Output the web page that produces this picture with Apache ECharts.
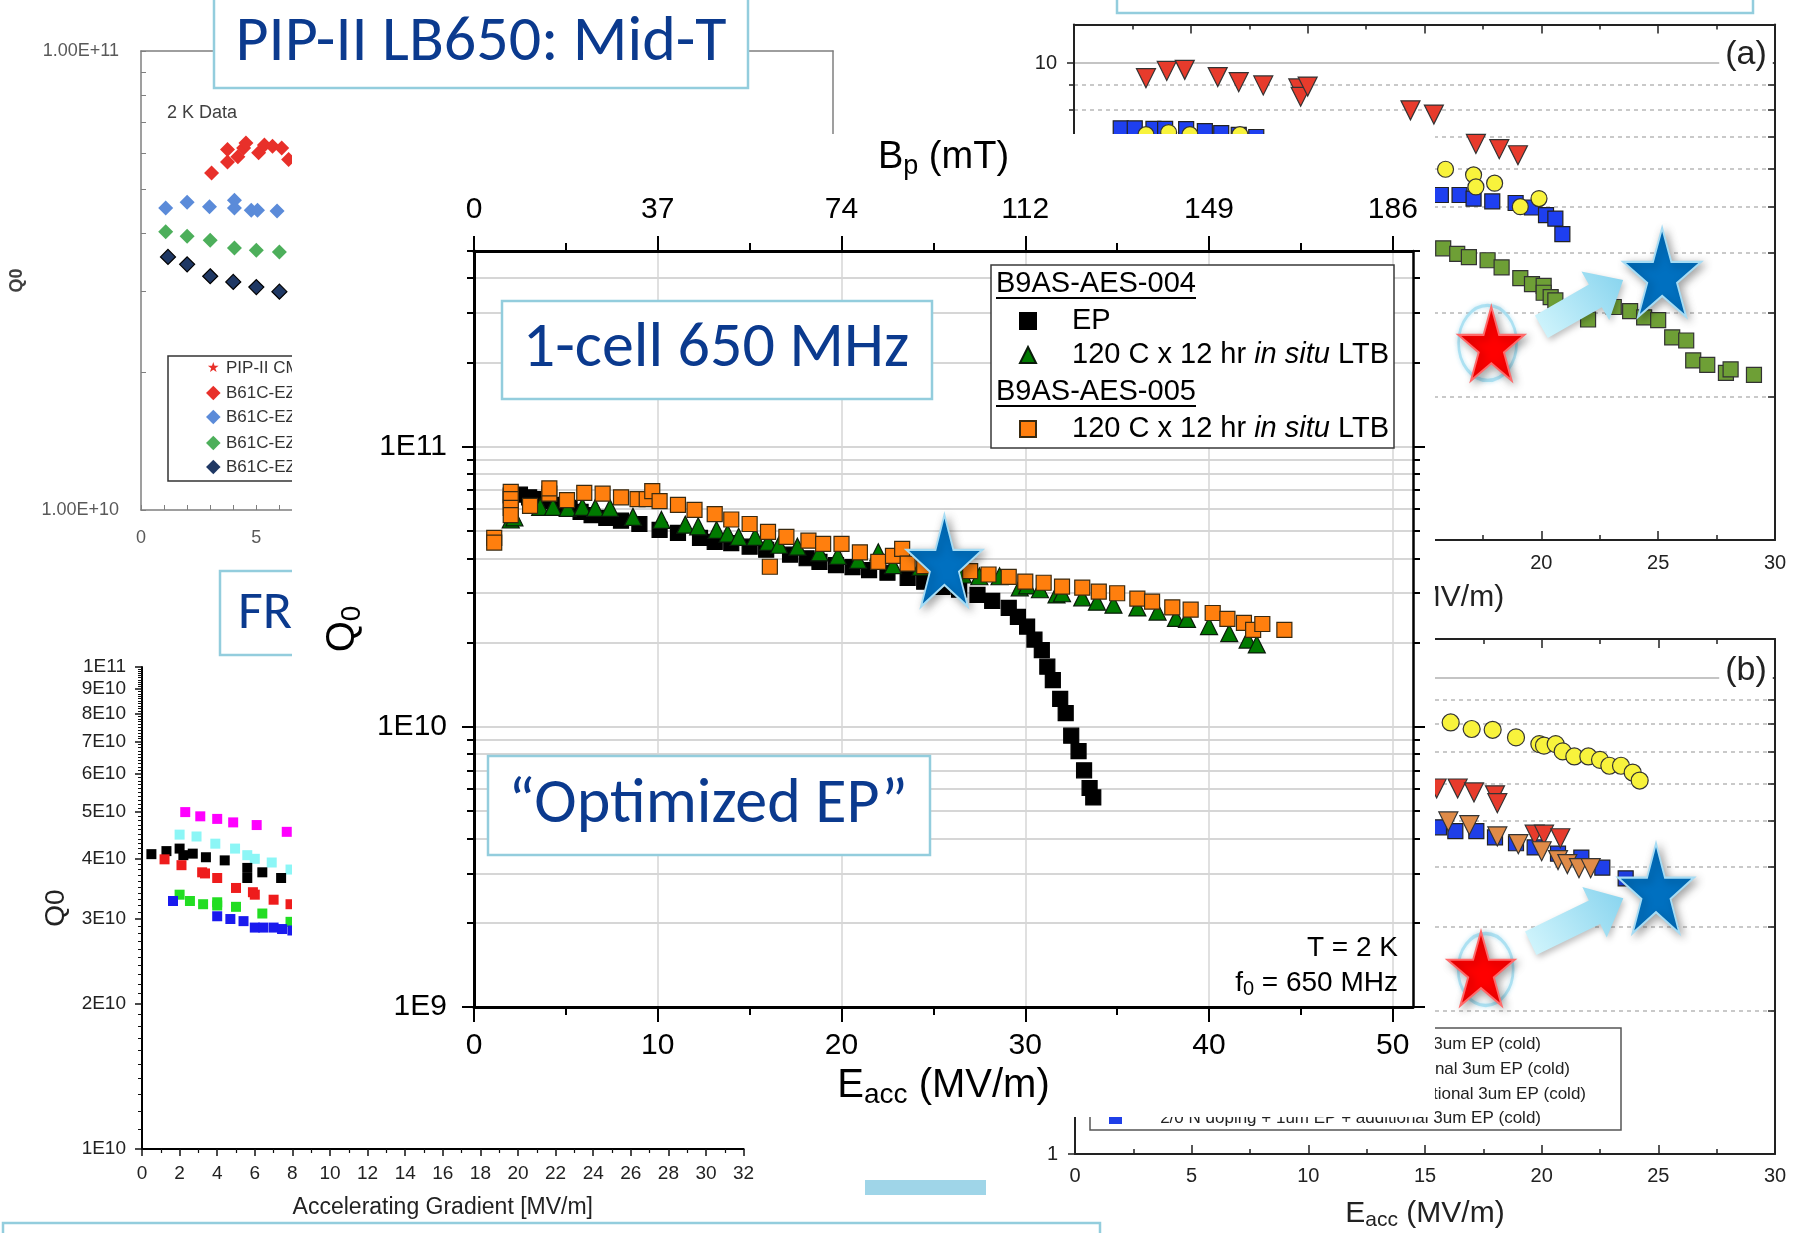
<!DOCTYPE html>
<html><head><meta charset="utf-8">
<script src="https://cdn.jsdelivr.net/npm/echarts@6/dist/echarts.min.js"></script>
<style>html,body{margin:0;padding:0;background:#fff;}#c{width:1796px;height:1233px;}</style>
</head><body><div id="c"></div>
<script>
// ================= DATA =================
// --- Main chart: 1-cell 650 MHz, Q0 vs Eacc (MV/m) ---
const epData = [[2.0,6.7e10],[2.5,6.75e10],[3.0,6.6e10],[3.5,6.5e10],[4.0,6.4e10],[4.6,6.2e10],[5.2,6.05e10],[5.8,5.86e10],[6.4,5.7e10],[7.2,5.57e10],[8.0,5.45e10],[9.0,5.3e10],[10.1,5.05e10],[11.1,4.93e10],[12.3,4.73e10],[13.1,4.58e10],[14.0,4.53e10],[15.0,4.4e10],[15.9,4.29e10],[17.2,4.12e10],[18.1,4.0e10],[18.8,3.88e10],[19.7,3.78e10],[20.6,3.72e10],[21.5,3.63e10],[22.5,3.55e10],[23.6,3.4e10],[24.5,3.3e10],[25.5,3.16e10],[26.4,3.09e10],[27.4,2.96e10],[28.2,2.82e10],[29.1,2.66e10],[29.6,2.47e10],[30.1,2.28e10],[30.5,2.05e10],[30.9,1.88e10],[31.2,1.64e10],[31.5,1.47e10],[31.9,1.26e10],[32.2,1.12e10],[32.5,9.3e9],[32.9,8.2e9],[33.2,7.0e9],[33.5,6.05e9],[33.7,5.6e9]];
const ltb004Data = [[2.0,5.5e10],[2.2,5.6e10],[3.6,6.1e10],[4.3,6.1e10],[5.1,6.05e10],[5.9,6.1e10],[6.6,6.05e10],[7.4,6.05e10],[8.65,5.62e10],[10.2,5.48e10],[11.5,5.27e10],[12.2,5.2e10],[13.2,5.05e10],[13.8,4.9e10],[14.4,4.77e10],[15.3,4.77e10],[16.0,4.58e10],[16.6,4.47e10],[17.6,4.4e10],[18.8,4.2e10],[19.8,4.08e10],[20.9,3.95e10],[22.0,4.2e10],[22.8,3.78e10],[24.3,3.73e10],[25.3,3.6e10],[26.6,3.5e10],[27.5,3.45e10],[28.6,3.45e10],[29.7,3.15e10],[30.1,3.2e10],[30.8,3.1e10],[31.7,2.97e10],[32.0,3.0e10],[33.1,2.9e10],[33.9,2.8e10],[34.8,2.73e10],[36.1,2.67e10],[37.2,2.58e10],[38.2,2.45e10],[38.8,2.43e10],[40.0,2.29e10],[41.1,2.16e10],[42.1,2.05e10],[42.6,1.97e10]];
const ltb005Data = [[1.1,4.73e10],[1.1,4.55e10],[2.0,6.9e10],[2.0,6.5e10],[2.0,6.05e10],[2.0,5.7e10],[3.05,6.15e10],[4.1,6.8e10],[4.1,7.1e10],[5.06,6.45e10],[6.0,6.85e10],[7.0,6.8e10],[8.0,6.6e10],[8.9,6.5e10],[9.4,6.5e10],[9.7,6.95e10],[10.1,6.4e10],[11.1,6.2e10],[12.0,5.95e10],[13.1,5.75e10],[14.0,5.5e10],[15.0,5.3e10],[16.0,4.97e10],[16.1,3.73e10],[17.0,4.77e10],[18.2,4.62e10],[19.0,4.5e10],[20.0,4.5e10],[21.0,4.2e10],[22.0,3.88e10],[22.8,4.08e10],[23.3,4.32e10],[23.6,3.83e10],[24.5,3.75e10],[25.5,3.7e10],[27.0,3.6e10],[28.0,3.5e10],[29.1,3.43e10],[30.0,3.3e10],[31.0,3.27e10],[32.0,3.17e10],[33.1,3.14e10],[34.0,3.04e10],[35.0,3.0e10],[36.1,2.87e10],[36.9,2.8e10],[38.0,2.67e10],[39.0,2.62e10],[40.2,2.55e10],[41.0,2.43e10],[41.9,2.35e10],[42.4,2.22e10],[42.9,2.33e10],[44.1,2.22e10]];
const mainStar = [[25.6,3.92e10]];
const mainXTicks = [0,10,20,30,40,50];
const mainXMinor = [5,15,25,35,45];
const bpTickLabels = ['0','37','74','112','149','186'];
const mainYTicks = [1e9,1e10,1e11];
const mainYTickLabels = ['1E9','1E10','1E11'];
const mainYMinor = [2e9,3e9,4e9,5e9,6e9,7e9,8e9,9e9,2e10,3e10,4e10,5e10,6e10,7e10,8e10,9e10,2e11,3e11,4e11,5e11];

// --- Top-left: PIP-II LB650 Mid-T (Q0 vs Eacc) ---
const tlRed = [[3.06,5.42e10],[3.75,5.73e10],[3.75,6.1e10],[4.2,5.88e10],[4.45,6.15e10],[4.55,6.3e10],[5.1,6.0e10],[5.35,6.24e10],[5.7,6.2e10],[6.1,6.15e10],[6.4,5.8e10]];
const tlBlue = [[1.07,4.55e10],[2.0,4.68e10],[2.97,4.58e10],[4.05,4.73e10],[4.05,4.55e10],[4.78,4.5e10],[5.05,4.5e10],[5.9,4.48e10]];
const tlGreen = [[1.07,4.04e10],[2.0,3.95e10],[3.0,3.87e10],[4.05,3.72e10],[5.0,3.68e10],[6.0,3.65e10]];
const tlNavy = [[1.17,3.56e10],[2.0,3.43e10],[3.0,3.23e10],[4.0,3.14e10],[5.0,3.06e10],[6.0,2.99e10]];
const tlXLabels = [0,5,10,15,20,25,30];
const tlYTicks = [1e10,2e10,3e10,4e10,5e10,6e10,7e10,8e10,9e10,1e11];
const tlYLabelValues = [1e10,1e11];
const tlYTickLabels = ['1.00E+10','1.00E+11'];

// --- Top-right (a) ---
const aRed = [[3.08,9.3],[3.97,9.63],[4.74,9.68],[6.15,9.35],[7.05,9.12],[8.1,8.98],[9.6,8.85],[9.7,8.5],[10.0,8.93],[14.4,7.96],[15.4,7.8],[17.2,6.77],[18.2,6.6],[19.0,6.41]];
const aBlue = [[2.0,7.3],[2.6,7.3],[3.4,7.28],[3.9,7.28],[4.8,7.27],[5.6,7.2],[6.3,7.13],[7.05,7.07],[7.8,7.0],[15.7,5.29],[16.5,5.29],[17.1,5.2],[17.9,5.13],[18.9,5.09],[19.6,4.98],[20.2,4.8],[20.6,4.72],[20.9,4.38]];
const aYellow = [[3.08,7.08],[4.05,7.15],[4.96,7.08],[7.1,7.08],[15.9,5.99],[17.1,5.83],[17.2,5.5],[18.0,5.6],[19.1,5.0],[19.9,5.2]];
const aGreen = [[15.8,4.09],[16.4,3.98],[16.9,3.92],[17.7,3.86],[18.3,3.73],[19.1,3.54],[19.6,3.44],[20.1,3.41],[20.1,3.3],[20.4,3.23],[20.6,3.18],[22.0,2.9],[23.1,3.08],[23.8,3.02],[24.4,2.93],[25.0,2.89],[25.6,2.66],[26.2,2.62],[26.5,2.38],[27.1,2.33],[27.9,2.24],[28.1,2.28],[29.1,2.22]];
const aRedStar = [[17.86,2.58]];
const aRing = [[17.7,2.59]];
const aBlueStar = [[25.17,3.64]];
const aArrow = [[20.0,2.80,23.5,3.51]];

// --- Bottom-right (b) ---
const bYellow = [[16.1,8.05],[17.0,7.8],[17.9,7.77],[18.9,7.49],[19.9,7.25],[20.1,7.2],[20.6,7.25],[20.9,7.0],[21.4,6.83],[22.0,6.83],[22.5,6.72],[22.9,6.53],[23.4,6.53],[23.9,6.32],[24.2,6.08]];
const bRed = [[15.5,5.85],[16.4,5.85],[17.1,5.74],[18.0,5.66],[18.1,5.45],[19.7,4.68],[20.1,4.68],[20.8,4.6]];
const bOrange = [[16.0,4.99],[16.9,4.9],[18.1,4.64],[19.0,4.47],[20.0,4.32],[20.7,4.14],[21.1,4.06],[21.6,3.98],[22.1,3.98]];
const bBlue = [[15.6,4.85],[16.3,4.76],[17.2,4.76],[18.0,4.62],[18.9,4.49],[19.7,4.4],[20.7,4.27],[21.7,4.19],[22.6,3.99],[23.6,3.79]];
const bRedStar = [[17.4,2.45]];
const bRing = [[17.6,2.44]];
const bBlueStar = [[24.9,3.61]];
const bArrow = [[19.53,2.77,23.5,3.44]];
const abYMajor = [1,10];
const abYLabels = ['1','10'];
const abYMinor = [2,3,4,5,6,7,8,9];
const abYRight = [2,3,4,5,6,7,8,9,10];

// --- Bottom-left: FRIB (Q0 vs Accelerating Gradient) ---
const frBlack = [[0.5,4.09e10],[1.3,4.15e10],[2.0,4.2e10],[2.2,4.07e10],[2.7,4.1e10],[3.4,4.03e10],[4.4,3.97e10],[5.6,3.83e10],[5.6,3.65e10],[6.4,3.75e10],[7.4,3.65e10]];
const frRed = [[1.2,3.99e10],[2.1,3.88e10],[3.2,3.75e10],[3.35,3.73e10],[4.0,3.65e10],[5.0,3.48e10],[5.9,3.41e10],[6.0,3.37e10],[7.0,3.29e10],[7.9,3.22e10]];
const frGreen = [[2.0,3.37e10],[2.55,3.27e10],[3.25,3.22e10],[4.0,3.25e10],[4.0,3.2e10],[5.0,3.18e10],[6.4,3.08e10],[7.9,2.96e10]];
const frBlue = [[1.65,3.27e10],[4.0,3.04e10],[4.7,3.0e10],[5.4,2.97e10],[6.0,2.88e10],[6.45,2.88e10],[7.0,2.88e10],[7.45,2.86e10],[8.0,2.84e10]];
const frMagenta = [[2.3,5.0e10],[3.1,4.9e10],[4.0,4.84e10],[4.85,4.76e10],[6.1,4.7e10],[7.7,4.55e10]];
const frCyan = [[2.0,4.49e10],[2.9,4.45e10],[3.9,4.3e10],[4.95,4.2e10],[5.6,4.07e10],[6.0,4.0e10],[6.9,3.93e10],[7.9,3.8e10]];
const frYTicks = [1e10,2e10,3e10,4e10,5e10,6e10,7e10,8e10,9e10,1e11];
const frYTickLabels = ['1E10','2E10','3E10','4E10','5E10','6E10','7E10','8E10','9E10','1E11'];
const frYMinor = [];
for (let k = 11; k < 100; k++) { if (k % 10) frYMinor.push(k * 1e9); }

// ================= STYLE =================
const F = '"Liberation Sans", Arial, Helvetica, sans-serif';
const FC = 'Carlito, Lato, "Open Sans", sans-serif';
const NAVY = '#0b3a8e';
const BOXC = '#93cddd';
const STAR = 'path://M50,0 L61.2,34.5 L97.6,34.5 L68.2,55.9 L79.4,90.5 L50,69.1 L20.6,90.5 L31.8,55.9 L2.4,34.5 L38.8,34.5 Z';

function lookupLabel(vals, labels) {
  return function (v) {
    const i = vals.findIndex(t => Math.abs(t - v) / Math.abs(t || 1) < 1e-6);
    return i >= 0 ? labels[i] : '';
  };
}
function subRich(big, small, color) {
  return {
    b: {fontSize: big, fontFamily: F, color: color, lineHeight: Math.round(big * 1.15)},
    s: {fontSize: small, fontFamily: F, color: color, lineHeight: Math.round(small * 0.7), verticalAlign: 'bottom'}
  };
}
const noLine = {show: false, onZero: false};

function arrowItem(params, api) {
  const p1 = api.coord([api.value(0), api.value(1)]);
  const p2 = api.coord([api.value(2), api.value(3)]);
  const dx = p2[0] - p1[0], dy = p2[1] - p1[1];
  const L = Math.hypot(dx, dy);
  const ux = dx / L, uy = dy / L, nx = -uy, ny = ux;
  const sw = 13, hw = 28, hl = 32;
  const bx = p2[0] - ux * hl, by = p2[1] - uy * hl;
  const pts = [
    [p1[0] + nx * sw, p1[1] + ny * sw], [bx + nx * sw, by + ny * sw], [bx + nx * hw, by + ny * hw],
    p2, [bx - nx * hw, by - ny * hw], [bx - nx * sw, by - ny * sw], [p1[0] - nx * sw, p1[1] - ny * sw]
  ];
  return {
    type: 'polygon', shape: {points: pts},
    style: {
      fill: {type: 'linear', x: 0, y: 1, x2: 1, y2: 0, colorStops: [{offset: 0, color: '#d6f7fd'}, {offset: 1, color: '#86d3ee'}]},
      stroke: 'rgba(0,0,0,0)', shadowBlur: 6, shadowColor: 'rgba(0,0,0,0.25)', shadowOffsetX: 2, shadowOffsetY: 3
    }
  };
}

// ================= AXES =================
const xAxes = [
  // 0 TL bottom
  {gridIndex: 0, type: 'value', position: 'bottom', min: 0, max: 30, interval: 1, z: 2,
   axisLine: {onZero: false, lineStyle: {color: '#7f7f7f', width: 1.5}},
   axisTick: {inside: true, length: 5, lineStyle: {color: '#7f7f7f'}},
   axisLabel: {customValues: tlXLabels, fontSize: 18, color: '#595959', margin: 19, fontFamily: F},
   splitLine: {show: false}},
  // 1 TL top (frame)
  {gridIndex: 0, type: 'value', position: 'top', min: 0, max: 30, z: 2,
   axisLine: {onZero: false, lineStyle: {color: '#7f7f7f', width: 1.5}},
   axisTick: {show: false}, axisLabel: {show: false}, splitLine: {show: false}},
  // 2 (a) bottom
  {gridIndex: 1, type: 'value', position: 'bottom', min: 0, max: 30, interval: 5, z: 2,
   axisLine: {onZero: false, lineStyle: {color: '#222', width: 2}},
   axisTick: {inside: true, length: 9, lineStyle: {color: '#222', width: 1.5}},
   minorTick: {show: true, splitNumber: 2, length: 5, lineStyle: {color: '#222', width: 1.5}},
   axisLabel: {fontSize: 20, color: '#222', margin: 13, fontFamily: F},
   splitLine: {show: false},
   name: '{b|E}{s|acc}{b| (MV/m)}', nameLocation: 'middle', nameGap: 40,
   nameTextStyle: {rich: subRich(30, 21, '#222')}},
  // 3 (a) top
  {gridIndex: 1, type: 'value', position: 'top', min: 0, max: 30, interval: 5, z: 2,
   axisLine: {onZero: false, lineStyle: {color: '#222', width: 2}},
   axisTick: {inside: true, length: 9, lineStyle: {color: '#222', width: 1.5}},
   minorTick: {show: true, splitNumber: 2, length: 5, lineStyle: {color: '#222', width: 1.5}},
   axisLabel: {show: false}, splitLine: {show: false}},
  // 4 (b) bottom
  {gridIndex: 2, type: 'value', position: 'bottom', min: 0, max: 30, interval: 5, z: 2,
   axisLine: {onZero: false, lineStyle: {color: '#222', width: 2}},
   axisTick: {inside: true, length: 9, lineStyle: {color: '#222', width: 1.5}},
   minorTick: {show: true, splitNumber: 2, length: 5, lineStyle: {color: '#222', width: 1.5}},
   axisLabel: {fontSize: 20, color: '#222', margin: 12, fontFamily: F},
   splitLine: {show: false},
   name: '{b|E}{s|acc}{b| (MV/m)}', nameLocation: 'middle', nameGap: 42,
   nameTextStyle: {rich: subRich(30, 21, '#222')}},
  // 5 (b) top
  {gridIndex: 2, type: 'value', position: 'top', min: 0, max: 30, interval: 5, z: 2,
   axisLine: {onZero: false, lineStyle: {color: '#222', width: 2}},
   axisTick: {inside: true, length: 9, lineStyle: {color: '#222', width: 1.5}},
   minorTick: {show: true, splitNumber: 2, length: 5, lineStyle: {color: '#222', width: 1.5}},
   axisLabel: {show: false}, splitLine: {show: false}},
  // 6 FRIB bottom
  {gridIndex: 3, type: 'value', position: 'bottom', min: 0, max: 32, interval: 2, z: 2,
   axisLine: {onZero: false, lineStyle: {color: '#000', width: 2}},
   axisTick: {length: 7, lineStyle: {color: '#111', width: 1.5}},
   minorTick: {show: true, splitNumber: 2, length: 4, lineStyle: {color: '#111', width: 1.2}},
   axisLabel: {fontSize: 19, color: '#222', margin: 15, fontFamily: F},
   splitLine: {show: false},
   name: 'Accelerating Gradient [MV/m]', nameLocation: 'middle', nameGap: 47,
   nameTextStyle: {fontSize: 23, color: '#222', fontFamily: F}},
  // 7 MAIN bottom
  {gridIndex: 4, type: 'value', position: 'bottom', min: 0, max: 51.1, z: 60,
   axisLine: {onZero: false, lineStyle: {color: '#000', width: 3}},
   axisTick: {customValues: mainXTicks, length: 15, lineStyle: {color: '#000', width: 2}},
   axisLabel: {customValues: mainXTicks, fontSize: 30, color: '#000', margin: 24, fontFamily: F},
   splitLine: {show: true, lineStyle: {color: '#d6d6d6', width: 1.5}},
   name: '{b|E}{s|acc}{b| (MV/m)}', nameLocation: 'middle', nameGap: 56,
   nameTextStyle: {rich: subRich(40, 28, '#000')}},
  // 8 MAIN bottom minor ticks
  {gridIndex: 4, type: 'value', position: 'bottom', min: 0, max: 51.1, z: 60, axisLine: noLine,
   axisTick: {customValues: mainXMinor, length: 8, lineStyle: {color: '#000', width: 2}},
   axisLabel: {show: false}, splitLine: {show: false}},
  // 9 MAIN top (Bp)
  {gridIndex: 4, type: 'value', position: 'top', min: 0, max: 51.1, z: 60,
   axisLine: {onZero: false, lineStyle: {color: '#000', width: 3}},
   axisTick: {customValues: mainXTicks, length: 15, lineStyle: {color: '#000', width: 2}},
   axisLabel: {customValues: mainXTicks, fontSize: 30, color: '#000', margin: 26, fontFamily: F,
               formatter: lookupLabel(mainXTicks, bpTickLabels)},
   splitLine: {show: false},
   name: '{b|B}{s|p}{b| (mT)}', nameLocation: 'middle', nameGap: 71,
   nameTextStyle: {rich: subRich(38, 27, '#000')}},
  // 10 MAIN top minor ticks
  {gridIndex: 4, type: 'value', position: 'top', min: 0, max: 51.1, z: 60, axisLine: noLine,
   axisTick: {customValues: mainXMinor, length: 8, lineStyle: {color: '#000', width: 2}},
   axisLabel: {show: false}, splitLine: {show: false}}
];

const yAxes = [
  // 0 TL left
  {gridIndex: 0, type: 'log', logBase: 10, position: 'left', min: 1e10, max: 1e11, z: 2,
   axisLine: {onZero: false, lineStyle: {color: '#7f7f7f', width: 1.5}},
   axisTick: {customValues: tlYTicks, inside: true, length: 5, lineStyle: {color: '#7f7f7f'}},
   axisLabel: {customValues: tlYLabelValues, formatter: lookupLabel(tlYLabelValues, tlYTickLabels),
               fontSize: 18, color: '#595959', margin: 22, fontFamily: F},
   splitLine: {show: false},
   name: 'Q0', nameLocation: 'middle', nameGap: 115,
   nameTextStyle: {fontSize: 18, fontWeight: 'bold', color: '#404040', fontFamily: F}},
  // 1 TL right (frame)
  {gridIndex: 0, type: 'log', logBase: 10, min: 1e10, max: 1e11, position: 'right', z: 2,
   axisLine: {onZero: false, lineStyle: {color: '#7f7f7f', width: 1.5}},
   axisTick: {show: false}, axisLabel: {show: false}, splitLine: {show: false}},
  // 2 (a) left major
  {gridIndex: 1, type: 'log', logBase: 10, position: 'left', min: 1, max: 12.05, z: 2,
   axisLine: {onZero: false, lineStyle: {color: '#222', width: 2}},
   axisTick: {customValues: abYMajor, length: 7, lineStyle: {color: '#222', width: 1.5}},
   axisLabel: {customValues: abYMajor, formatter: lookupLabel(abYMajor, abYLabels), fontSize: 20, color: '#222', margin: 17, fontFamily: F},
   splitLine: {show: true, lineStyle: {color: '#c4c4c4', width: 2}}},
  // 3 (a) left minor
  {gridIndex: 1, type: 'log', logBase: 10, position: 'left', min: 1, max: 12.05, z: 1, axisLine: noLine,
   axisTick: {customValues: abYMinor, length: 5, lineStyle: {color: '#222', width: 1.5}},
   axisLabel: {show: false},
   splitLine: {show: true, lineStyle: {color: '#b8b8b8', width: 1.5, type: [4, 4]}}},
  // 4 (a) right
  {gridIndex: 1, type: 'log', logBase: 10, min: 1, max: 12.05, position: 'right', z: 2,
   axisLine: {onZero: false, lineStyle: {color: '#222', width: 2}},
   axisTick: {customValues: abYRight, inside: true, length: 7, lineStyle: {color: '#222', width: 1.5}},
   axisLabel: {show: false}, splitLine: {show: false}},
  // 5 (b) left major
  {gridIndex: 2, type: 'log', logBase: 10, position: 'left', min: 1, max: 12.05, z: 2,
   axisLine: {onZero: false, lineStyle: {color: '#222', width: 2}},
   axisTick: {customValues: abYMajor, length: 7, lineStyle: {color: '#222', width: 1.5}},
   axisLabel: {customValues: abYMajor, formatter: lookupLabel(abYMajor, abYLabels), fontSize: 20, color: '#222', margin: 17, fontFamily: F},
   splitLine: {show: true, lineStyle: {color: '#c4c4c4', width: 2}}},
  // 6 (b) left minor
  {gridIndex: 2, type: 'log', logBase: 10, position: 'left', min: 1, max: 12.05, z: 1, axisLine: noLine,
   axisTick: {customValues: abYMinor, length: 5, lineStyle: {color: '#222', width: 1.5}},
   axisLabel: {show: false},
   splitLine: {show: true, lineStyle: {color: '#b8b8b8', width: 1.5, type: [4, 4]}}},
  // 7 (b) right
  {gridIndex: 2, type: 'log', logBase: 10, min: 1, max: 12.05, position: 'right', z: 2,
   axisLine: {onZero: false, lineStyle: {color: '#222', width: 2}},
   axisTick: {customValues: abYRight, inside: true, length: 7, lineStyle: {color: '#222', width: 1.5}},
   axisLabel: {show: false}, splitLine: {show: false}},
  // 8 FRIB left
  {gridIndex: 3, type: 'log', logBase: 10, position: 'left', min: 1e10, max: 1e11, z: 2,
   axisLine: {onZero: false, lineStyle: {color: '#000', width: 2}},
   axisTick: {customValues: frYTicks, length: 7, lineStyle: {color: '#111', width: 1.5}},
   axisLabel: {customValues: frYTicks, formatter: lookupLabel(frYTicks, frYTickLabels), fontSize: 19, color: '#222', margin: 16, fontFamily: F},
   splitLine: {show: false},
   name: 'Q0', nameLocation: 'middle', nameGap: 72,
   nameTextStyle: {fontSize: 28, color: '#222', fontFamily: F}},
  // 9 FRIB left minor
  {gridIndex: 3, type: 'log', logBase: 10, position: 'left', min: 1e10, max: 1e11, z: 2, axisLine: noLine,
   axisTick: {customValues: frYMinor, length: 4, lineStyle: {color: '#111', width: 1}},
   axisLabel: {show: false}, splitLine: {show: false}},
  // 10 MAIN left
  {gridIndex: 4, type: 'log', logBase: 10, position: 'left', min: 1e9, max: 5e11, z: 60,
   axisLine: {onZero: false, lineStyle: {color: '#000', width: 3}},
   axisTick: {customValues: mainYTicks, length: 12, lineStyle: {color: '#000', width: 2}},
   axisLabel: {customValues: mainYTicks, formatter: lookupLabel(mainYTicks, mainYTickLabels), fontSize: 30, color: '#000', margin: 27, fontFamily: F},
   splitLine: {show: true, lineStyle: {color: '#d6d6d6', width: 2}},
   name: '{b|Q}{s|0}', nameLocation: 'middle', nameGap: 108,
   nameTextStyle: {rich: subRich(40, 28, '#000')}},
  // 11 MAIN left minor
  {gridIndex: 4, type: 'log', logBase: 10, position: 'left', min: 1e9, max: 5e11, z: 59, axisLine: noLine,
   axisTick: {customValues: mainYMinor, length: 7, lineStyle: {color: '#000', width: 2}},
   axisLabel: {show: false},
   splitLine: {show: true, lineStyle: {color: '#d6d6d6', width: 2}}},
  // 12 MAIN right
  {gridIndex: 4, type: 'log', logBase: 10, min: 1e9, max: 5e11, position: 'right', z: 60,
   axisLine: {onZero: false, lineStyle: {color: '#000', width: 2.5}},
   axisTick: {customValues: mainYTicks, length: 12, lineStyle: {color: '#000', width: 2}},
   axisLabel: {show: false}, splitLine: {show: false}},
  // 13 MAIN right minor
  {gridIndex: 4, type: 'log', logBase: 10, min: 1e9, max: 5e11, position: 'right', z: 60, axisLine: noLine,
   axisTick: {customValues: mainYMinor, length: 7, lineStyle: {color: '#000', width: 2}},
   axisLabel: {show: false}, splitLine: {show: false}}
];

// ================= SERIES =================
function sc(name, data, xi, yi, symbol, size, color, border, z, extra) {
  return Object.assign({
    name: name, type: 'scatter', data: data, xAxisIndex: xi, yAxisIndex: yi,
    symbol: symbol, symbolSize: size, z: z, silent: true,
    itemStyle: {color: color, borderColor: border || color, borderWidth: border ? 1.2 : 0, opacity: 1}
  }, extra || {});
}
const starStyle = (c, b) => ({color: c, borderColor: b, borderWidth: 2, shadowBlur: 8, shadowColor: 'rgba(0,0,0,0.35)', shadowOffsetX: 3, shadowOffsetY: 3, opacity: 1});

const series = [
  // TL
  sc('tl-red', tlRed, 0, 0, 'diamond', 15, '#e8302a', null, 4),
  sc('tl-blue', tlBlue, 0, 0, 'diamond', 15, '#5b8bd9', null, 4),
  sc('tl-green', tlGreen, 0, 0, 'diamond', 15, '#4daf5b', null, 4),
  sc('tl-navy', tlNavy, 0, 0, 'diamond', 15, '#1f3864', '#000', 4),
  // (a)
  sc('a-red', aRed, 2, 2, 'triangle', 19, '#e73b2c', '#333', 4, {symbolRotate: 180}),
  sc('a-blue', aBlue, 2, 2, 'rect', 15, '#1e3ff0', '#222', 4),
  sc('a-yellow', aYellow, 2, 2, 'circle', 16, '#f8f33c', '#333', 4),
  sc('a-green', aGreen, 2, 2, 'rect', 15, '#6e9f36', '#333', 4),
  sc('a-ring', aRing, 2, 2, 'circle', [58, 75], 'rgba(255,255,255,0)', null, 5,
     {itemStyle: {color: 'rgba(255,255,255,0)', borderColor: '#9fdcf0', borderWidth: 3, shadowBlur: 4, shadowColor: 'rgba(120,200,230,0.6)'}}),
  sc('a-redstar', aRedStar, 2, 2, STAR, [66, 74], '#ff0000', null, 6, {itemStyle: starStyle('#ff0000', '#ff6a6a')}),
  {name: 'a-arrow', type: 'custom', coordinateSystem: 'cartesian2d', xAxisIndex: 2, yAxisIndex: 2, z: 6, silent: true,
   data: aArrow, encode: {x: [0, 2], y: [1, 3]}, renderItem: arrowItem},
  sc('a-bluestar', aBlueStar, 2, 2, STAR, [78, 89], '#0070c0', null, 7, {itemStyle: starStyle('#0070c0', '#a6dcf4')}),
  // (b)
  sc('b-blue', bBlue, 4, 5, 'rect', 15, '#1f3fe8', '#222', 4),
  sc('b-red', bRed, 4, 5, 'triangle', 19, '#e73b2c', '#333', 4, {symbolRotate: 180}),
  sc('b-orange', bOrange, 4, 5, 'triangle', 19, '#df8b48', '#333', 4, {symbolRotate: 180}),
  sc('b-yellow', bYellow, 4, 5, 'circle', 17, '#f8f33c', '#333', 4),
  sc('b-ring', bRing, 4, 5, 'circle', [55, 72], 'rgba(255,255,255,0)', null, 5,
     {itemStyle: {color: 'rgba(255,255,255,0)', borderColor: '#9fdcf0', borderWidth: 3, shadowBlur: 4, shadowColor: 'rgba(120,200,230,0.6)'}}),
  sc('b-redstar', bRedStar, 4, 5, STAR, [67, 74], '#ff0000', null, 6, {itemStyle: starStyle('#ff0000', '#ff6a6a')}),
  {name: 'b-arrow', type: 'custom', coordinateSystem: 'cartesian2d', xAxisIndex: 4, yAxisIndex: 5, z: 6, silent: true,
   data: bArrow, encode: {x: [0, 2], y: [1, 3]}, renderItem: arrowItem},
  sc('b-bluestar', bBlueStar, 4, 5, STAR, [76, 90], '#0070c0', null, 7, {itemStyle: starStyle('#0070c0', '#a6dcf4')}),
  // FRIB
  sc('fr-magenta', frMagenta, 6, 8, 'rect', 10, '#ff00ff', null, 4),
  sc('fr-cyan', frCyan, 6, 8, 'rect', 10, '#8cf6f6', null, 4),
  sc('fr-black', frBlack, 6, 8, 'rect', 10, '#000000', null, 4),
  sc('fr-red', frRed, 6, 8, 'rect', 10, '#ee1c1c', null, 4),
  sc('fr-green', frGreen, 6, 8, 'rect', 10, '#22dd22', null, 4),
  sc('fr-blue', frBlue, 6, 8, 'rect', 10, '#1a1aee', null, 4),
  // MAIN
  sc('EP', epData, 7, 10, 'rect', 15, '#000000', '#000', 70),
  sc('LTB-004', ltb004Data, 7, 10, 'triangle', 17, '#007a00', '#0a1a0a', 71),
  sc('LTB-005', ltb005Data, 7, 10, 'rect', 15, '#ff7f0e', '#3a2a10', 72),
  sc('star', mainStar, 7, 10, STAR, [76, 92], '#0070c0', null, 95, {itemStyle: starStyle('#0070c0', '#a6dcf4')})
];

// ================= GRAPHICS =================
function box(x, y, w, h, z) {
  return {type: 'rect', z: z, shape: {x: x, y: y, width: w, height: h}, style: {fill: '#fff', stroke: BOXC, lineWidth: 2.5}};
}
function txt(t, x, y, size, opts) {
  return Object.assign({type: 'text', z: (opts && opts.z) || 80,
    style: Object.assign({text: t, x: x, y: y, fontSize: size, fontFamily: F, fill: '#000', textAlign: 'left', textVerticalAlign: 'middle'}, (opts && opts.style) || {})});
}
const graphics = [
  // background decorations
  box(214, -3, 534, 91, 20),
  txt('PIP-II LB650: Mid-T', 481, 44, 64, {z: 21, style: {fontFamily: FC, fill: NAVY, textAlign: 'center'}}),
  txt('2 K Data', 167, 113, 18, {z: 6, style: {fill: '#404040'}}),
  {type: 'rect', z: 6, shape: {x: 168, y: 356, width: 140, height: 125}, style: {fill: '#fff', stroke: '#333', lineWidth: 1.5}},
  txt('\u2605', 213, 368, 14, {z: 7, style: {fill: '#e8302a', textAlign: 'center'}}),
  txt('\u25C6', 213, 393, 19, {z: 7, style: {fill: '#e8302a', textAlign: 'center'}}),
  txt('\u25C6', 213, 417, 19, {z: 7, style: {fill: '#5b8bd9', textAlign: 'center'}}),
  txt('\u25C6', 213, 443, 19, {z: 7, style: {fill: '#4daf5b', textAlign: 'center'}}),
  txt('\u25C6', 213, 467, 19, {z: 7, style: {fill: '#1f3864', textAlign: 'center'}}),
  txt('PIP-II CM', 226, 368, 17, {z: 7, style: {fill: '#333'}}),
  txt('B61C-EZ', 226, 393, 17, {z: 7, style: {fill: '#333'}}),
  txt('B61C-EZ', 226, 417, 17, {z: 7, style: {fill: '#333'}}),
  txt('B61C-EZ', 226, 443, 17, {z: 7, style: {fill: '#333'}}),
  txt('B61C-EZ', 226, 467, 17, {z: 7, style: {fill: '#333'}}),
  box(1117, -20, 636, 33, 20),
  txt('(a)', 1746, 55, 34, {z: 8, style: {fill: '#222', textAlign: 'center', backgroundColor: '#fff', padding: [0, 6]}}),
  txt('(b)', 1746, 671, 34, {z: 8, style: {fill: '#222', textAlign: 'center', backgroundColor: '#fff', padding: [0, 6]}}),
  {type: 'rect', z: 6, shape: {x: 1090, y: 1028, width: 531, height: 102}, style: {fill: '#fff', stroke: '#555', lineWidth: 1.5}},
  txt('2/0 N doping + 3um EP (cold)', 1541, 1044, 17, {z: 7, style: {fill: '#222', textAlign: 'right'}}),
  txt('2/6 N doping + 1um EP + additional 3um EP (cold)', 1570, 1069, 17, {z: 7, style: {fill: '#222', textAlign: 'right'}}),
  txt('2/0 N doping + 1um EP + additional 3um EP (cold)', 1586, 1094, 17, {z: 7, style: {fill: '#222', textAlign: 'right'}}),
  txt('2/0 N doping + 1um EP + additional 3um EP (cold)', 1541, 1118, 17, {z: 7, style: {fill: '#222', textAlign: 'right'}}),
  {type: 'rect', z: 7, shape: {x: 1109, y: 1112, width: 13, height: 12}, style: {fill: '#1f3fe8'}},
  box(220, 571, 160, 84, 20),
  txt('FRIB', 238, 614, 54, {z: 21, style: {fontFamily: FC, fill: NAVY}}),
  {type: 'rect', z: 20, shape: {x: 865, y: 1180, width: 121, height: 15}, style: {fill: '#9fd5e8'}},
  box(3, 1223, 1097, 30, 20),
  // main panel (white sheet over the background charts)
  {type: 'rect', z: 50, shape: {x: 292, y: 134, width: 1143, height: 983}, style: {fill: '#fff'}},
  // main legend frame & headers
  {type: 'rect', z: 78, shape: {x: 991, y: 265, width: 403, height: 183}, style: {fill: '#fff', stroke: '#3a3a3a', lineWidth: 1.5}},
  txt('B9AS-AES-004', 996, 284, 29, {z: 79}),
  {type: 'line', z: 79, shape: {x1: 996, y1: 298, x2: 1196, y2: 298}, style: {stroke: '#000', lineWidth: 2}},
  txt('B9AS-AES-005', 996, 392, 29, {z: 79}),
  {type: 'line', z: 79, shape: {x1: 996, y1: 406, x2: 1196, y2: 406}, style: {stroke: '#000', lineWidth: 2}},
  // conditions
  txt('T = 2 K', 1398, 948, 28, {z: 80, style: {textAlign: 'right'}}),
  txt('{b|f}{s|0}{b| = 650 MHz}', 1398, 983, 28, {z: 80, style: {textAlign: 'right', rich: subRich(28, 20, '#000')}}),
  // callout boxes
  box(502, 301, 430, 98, 90),
  txt('1-cell 650 MHz', 716, 350, 64, {z: 91, style: {fontFamily: FC, fill: NAVY, textAlign: 'center'}}),
  box(488, 756, 442, 99, 90),
  txt('\u201COptimized EP\u201D', 708, 806, 64, {z: 91, style: {fontFamily: FC, fill: NAVY, textAlign: 'center'}})
];

const legendLabels = {'EP': 'EP', 'LTB-004': '120 C x 12 hr {i|in situ} LTB', 'LTB-005': '120 C x 12 hr {i|in situ} LTB'};
const legendText = {fontSize: 29, fontFamily: F, color: '#000', lineHeight: 34, padding: [0, 0, 0, 31],
  rich: {i: {fontStyle: 'italic', fontSize: 29, fontFamily: F, color: '#000', lineHeight: 34}}};
function lg(data, top) {
  return {data: data, orient: 'vertical', left: 1019, top: top, itemWidth: 16, itemHeight: 16, itemGap: 0, padding: 0,
    selectedMode: false, z: 85, textStyle: legendText, formatter: n => legendLabels[n]};
}

const option = {
  animation: false,
  backgroundColor: '#fff',
  textStyle: {fontFamily: F},
  grid: [
    {left: 141, top: 51, width: 692, height: 459, outerBoundsMode: 'none'},
    {left: 1074, top: 24.5, width: 701, height: 515.5, outerBoundsMode: 'none'},
    {left: 1075, top: 639, width: 700, height: 515, outerBoundsMode: 'none'},
    {left: 142, top: 667, width: 601.6, height: 482, outerBoundsMode: 'none'},
    {left: 474, top: 251, width: 939, height: 756, outerBoundsMode: 'none'}
  ],
  xAxis: xAxes,
  yAxis: yAxes,
  legend: [lg(['EP', 'LTB-004'], 304), lg(['LTB-005'], 412)],
  graphic: {elements: graphics},
  series: series
};
const chart = echarts.init(document.getElementById('c'), null, {renderer: 'canvas'});
chart.setOption(option);
</script>
</body></html>
